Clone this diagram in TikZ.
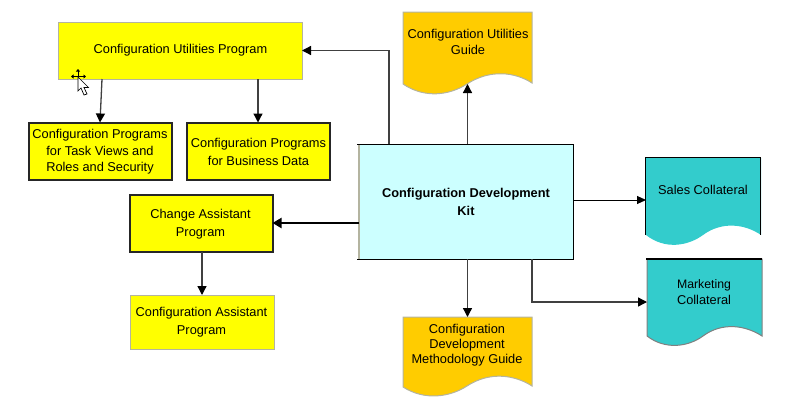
\documentclass[tikz,border=0pt]{standalone}
\usepackage{fontspec}
\setmainfont{Liberation Sans}
\usetikzlibrary{arrows.meta,calc}
\definecolor{yel}{HTML}{FFFF00}
\definecolor{amber}{HTML}{FFCC00}
\definecolor{teal2}{HTML}{33CCCC}
\definecolor{ice}{HTML}{CCFFFF}
\definecolor{edgegray}{HTML}{B4B4A0}
\definecolor{linegray}{HTML}{404040}
\tikzset{
  every node/.style={font=\fontsize{12.8}{16}\selectfont, align=center, inner sep=0pt, outer sep=0pt},
  softbox/.style={fill=yel, draw=edgegray, line width=1pt, rectangle, anchor=north west},
  hardbox/.style={fill=yel, draw=black!85, line width=2pt, rectangle, anchor=north west},
  docarea/.style={rectangle, anchor=north west},
  wavefill/.style={line width=1pt},
  link/.style={draw=linegray, line width=1.3pt, -{Triangle[length=9pt,width=9pt,color=black]}},
  thinlink/.style={draw=black, line width=1pt, -{Triangle[length=9pt,width=8pt]}},
  thicklink/.style={draw=black, line width=2pt, -{Triangle[length=9pt,width=10pt]}},
  cursorbody/.style={fill=white, draw=black, line width=0.7pt, line join=miter}
}
\begin{document}
\begin{tikzpicture}[x=1pt,y=-1pt]
\useasboundingbox (0,0) rectangle (800,415);

% rectangles
\node[softbox, minimum width=244pt, minimum height=57pt] (util) at (58,22) {};
\node at (180.5,50) (utilT) {Configuration Utilities Program};
\node[hardbox, minimum width=143pt, minimum height=57pt] (task) at (28.5,122.5) {};
\node[font=\fontsize{12.8}{16.5}\selectfont] at (100,152) (taskT) {Configuration Programs\\for Task Views and\\Roles and Security};
\node[hardbox, minimum width=143pt, minimum height=57pt] (biz) at (186.5,122.5) {};
\node[font=\fontsize{12.8}{18}\selectfont] at (258.5,152) (bizT) {Configuration Programs\\for Business Data};
\node[hardbox, minimum width=143pt, minimum height=57pt] (change) at (129.5,194.5) {};
\node[font=\fontsize{12.8}{18}\selectfont] at (200.5,224) (changeT) {Change Assistant\\Program};
\node[softbox, minimum width=144pt, minimum height=54pt] (assist) at (130,295) {};
\node[font=\fontsize{12.8}{18}\selectfont] at (201.5,322) (assistT) {Configuration Assistant\\Program};

% kit
\node[rectangle, fill=ice, anchor=north west, minimum width=214pt, minimum height=115pt] (kit) at (359,144) {};
\draw[edgegray, line width=1.4pt] (kit.north west) -- (kit.south west);
\draw[black, line width=1pt] ($(kit.north west)+(-2,0)$) -- (kit.north east) -- (kit.south east) -- ($(kit.south west)+(-2,0)$);
\node[font=\fontsize{12.8}{18}\selectfont\bfseries] at (466,202) (kitT) {Configuration Development\\Kit};

% documents
\node[docarea, minimum width=129pt, minimum height=72pt] (guide) at (403,12) {};
\draw[fill=amber, draw=edgegray, wavefill] (guide.north west) -- (guide.north east) -- (532,83)
  .. controls (515,72) and (490,69) .. (467,84) .. controls (450,95) and (425,99) .. (403,84) -- cycle;
\node at (468,42) (guideT) {Configuration Utilities\\Guide};

\node[docarea, minimum width=129pt, minimum height=70pt] (meth) at (403,317) {};
\draw[fill=amber, draw=edgegray, wavefill] (meth.north west) -- (meth.north east) -- (532,386)
  .. controls (515,375) and (490,371) .. (467,386) .. controls (450,397) and (425,401) .. (403,387) -- cycle;
\node[font=\fontsize{12.8}{15}\selectfont] at (467,345.5) (methT) {Configuration\\Development\\Methodology Guide};

\node[docarea, minimum width=115pt, minimum height=77pt] (sales) at (646,158) {};
\draw[fill=teal2, draw=none] (sales.north west) -- (sales.north east) -- (761,235)
  .. controls (745,224) and (722,221) .. (703,235) .. controls (688,246) and (665,250) .. (646,235) -- cycle;
\draw[black, line width=1pt] (645.5,235) -- (645.5,157.5) -- (760.5,157.5) -- (760.5,235);
\node at (703,189.5) (salesT) {Sales Collateral};

\node[docarea, minimum width=115pt, minimum height=77pt] (market) at (647,259) {};
\draw[fill=teal2, draw=gray, wavefill] (market.north west) -- (market.north east) -- (762,336)
  .. controls (745,325) and (722,322) .. (703,336) .. controls (688,347) and (665,350) .. (647,336) -- cycle;
\draw[black, line width=1.4pt] (646,259) -- (762,259);
\node[anchor=west, align=left, font=\fontsize{12.3}{16}\selectfont] at (677,292.5) (marketT) {Marketing\\{\fontsize{12.8}{16}\selectfont Collateral}};

% connectors
\coordinate (utilLeftDrop) at (102,79);
\coordinate (kitRise) at (389,144);
\coordinate (kitMarketDrop) at (532,259);
\draw[link] (kitRise) |- (util.east);
\draw[link] (utilLeftDrop) -- (task.north);
\draw[link] (util.south -| biz.north) -- (biz.north);
\draw[link] (kit.north -| guide.south) -- (guide.south);
\draw[link] (kit.south -| meth.north) -- (meth.north);
\draw[thinlink] (573,200) -- (sales.west |- 0,200);
\draw[link] (kitMarketDrop) |- (market.west |- 0,302);
\draw[thicklink] (kit.west |- change.east) -- (change.east);
\draw[link] (change.south -| 202,0) -- (assist.north -| 202,0);

% mouse cursor
\draw[cursorbody] (78,77) -- (78,91) -- (81,88) -- (84,95) -- (87,94) -- (84,87.5) -- (88.5,87.5) -- cycle;
\draw[black, line width=0.8pt, {Triangle[length=2.5pt,width=4pt]}-{Triangle[length=2.5pt,width=4pt]}] (71,76.5) -- (86,76.5);
\draw[black, line width=0.8pt, {Triangle[length=2.5pt,width=4pt]}-] (78,69) -- (78,76);
\end{tikzpicture}
\end{document}
